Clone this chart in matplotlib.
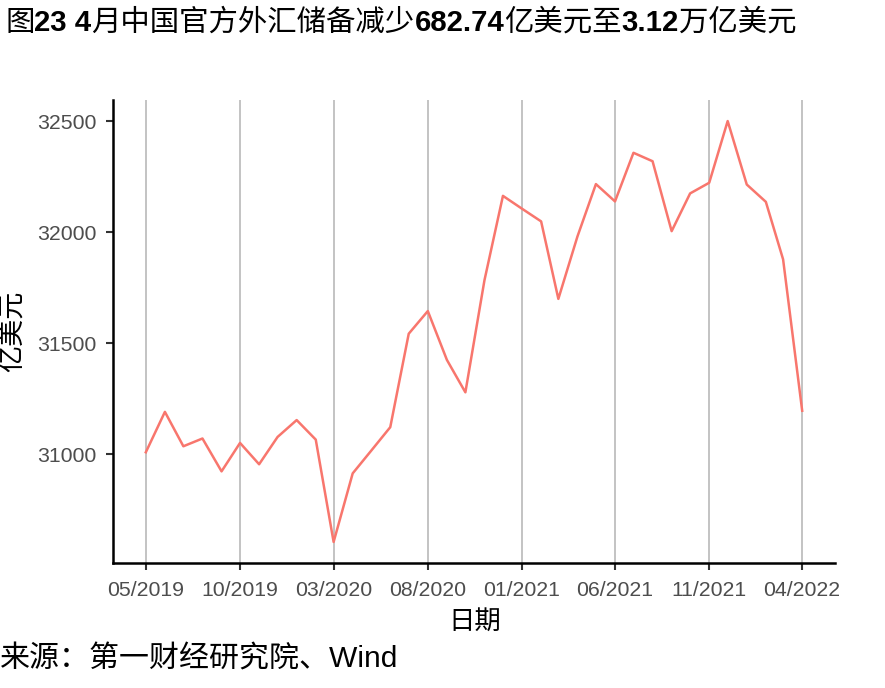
import matplotlib
matplotlib.use("Agg")
import matplotlib.pyplot as plt
import pandas as pd

dates = pd.date_range("2019-05-01", "2022-04-01", freq="MS")
reserves = [31010, 31192, 31037, 31072, 30924, 31052, 30956, 31079, 31155, 31067,
            30606, 30915, 31017, 31123, 31544, 31646, 31426, 31280, 31785, 32165,
            32107, 32050, 31701, 31982, 32218, 32140, 32359, 32321, 32006, 32176,
            32224, 32502, 32216, 32138, 31879, 31197]
y_ticks = [31000, 31500, 32000, 32500]
x_tick_dates = pd.date_range("2019-05-01", "2022-04-01", freq="5MS")

title_parts = [("图", "normal"), ("23 4", "bold"), ("月中国官方外汇储备减少", "normal"),
               ("682.74", "bold"), ("亿美元至", "normal"), ("3.12", "bold"), ("万亿美元", "normal")]
source = "来源：第一财经研究院、Wind"
xlabel = "日期"
ylabel = "亿美元"

fam = ["Liberation Sans", "Noto Sans CJK SC", "DejaVu Sans"]
plt.rcParams["font.family"] = fam

fig = plt.figure(figsize=(8.85, 6.88), dpi=100)
ax = fig.add_axes([113/885, 1-563/688, (835-113)/885, (563-100)/688])

ax.plot(dates, reserves, color="#F8766D", lw=1.8, zorder=3)

span = dates[-1] - dates[0]
ax.set_xlim(dates[0] - span*0.05, dates[-1] + span*0.05)
rng = max(reserves) - min(reserves)
ax.set_ylim(min(reserves) - rng*0.05, max(reserves) + rng*0.05)

ax.set_xticks(x_tick_dates)
ax.set_xticklabels([d.strftime("%m/%Y") for d in x_tick_dates])
ax.set_yticks(y_ticks)
ax.grid(axis="x", color="#BEBEBE", lw=1.3)
ax.grid(axis="y", visible=False)
ax.set_axisbelow(True)

for s in ["top", "right"]:
    ax.spines[s].set_visible(False)
for s in ["left", "bottom"]:
    ax.spines[s].set_linewidth(1.8)
    ax.spines[s].set_color("black")
ax.tick_params(axis="both", length=5, width=1.5, color="#333333",
               labelcolor="#4D4D4D", labelsize=15.3)
ax.tick_params(axis="y", pad=7)
ax.tick_params(axis="x", pad=8)

fig.text(475/885, 1-622/688, xlabel, ha="center", va="center", fontsize=19, color="black")
fig.text(14/885, 1-331/688, ylabel, ha="center", va="center", rotation=90, fontsize=19.5, color="black")
fig.text(0/885, 1-659/688, source, ha="left", va="center", fontsize=21.6, color="black")

renderer = fig.canvas.get_renderer()
x = 5
for txt, wt in title_parts:
    t = fig.text(x/885, 1-23/688, txt, ha="left", va="center", fontsize=21.2,
                 fontweight=wt, color="black")
    bb = t.get_window_extent(renderer=renderer)
    x += bb.width

fig.savefig("out.png", dpi=100)
